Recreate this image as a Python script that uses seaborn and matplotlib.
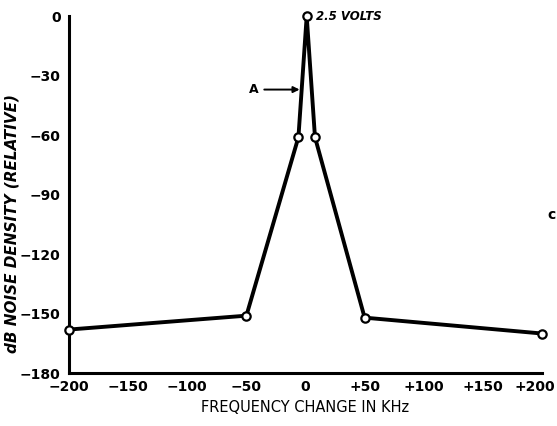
import matplotlib
matplotlib.use("Agg")
import matplotlib.pyplot as plt
import matplotlib.transforms as mtransforms
import seaborn as sns
import pandas as pd

# Noise density measured around the carrier
freq_khz = [-200, -50, -6, 1, 8, 50, 200]
noise_db = [-158, -151, -61, 0, -61, -152, -160]

x_ticks = [-200, -150, -100, -50, 0, 50, 100, 150, 200]
x_tick_labels = ["−200", "−150", "−100", "−50", "0", "+50", "+100", "+150", "+200"]
y_ticks = [0, -30, -60, -90, -120, -150, -180]
y_tick_labels = ["0", "−30", "−60", "−90", "−120", "−150", "−180"]

sns.set_theme(style="white")
plt.rcParams["font.family"] = ["DejaVu Sans"]
plt.rcParams["text.color"] = "black"
plt.rcParams["axes.labelcolor"] = "black"

df = pd.DataFrame({"freq": freq_khz, "noise": noise_db})

fig = plt.figure(figsize=(5.57, 4.26), dpi=100)
ax = fig.add_axes([0.124, 0.124, 0.849, 0.838])

sns.lineplot(data=df, x="freq", y="noise", ax=ax, color="black", linewidth=2.8,
             marker="o", markersize=6, markerfacecolor="white",
             markeredgecolor="black", markeredgewidth=1.6, sort=False,
             clip_on=False, zorder=5)

ax.set_xlim(-200, 200)
ax.set_ylim(-180, 0)

for side in ("top", "right"):
    ax.spines[side].set_visible(False)
for side in ("left", "bottom"):
    ax.spines[side].set_color("black")
    ax.spines[side].set_linewidth(2.2)

ax.tick_params(axis="y", direction="out", length=5, width=1.8, pad=1, colors="black")
ax.tick_params(axis="x", direction="inout", length=6, width=1.4, pad=2, colors="black")

ax.set_xticks(x_ticks)
ax.set_xticklabels(x_tick_labels, fontsize=10, fontweight="bold")
ax.set_yticks(y_ticks)
ax.set_yticklabels(y_tick_labels, fontsize=10, fontweight="bold")

# keep the last tick label inside the figure edge
last = ax.get_xticklabels()[-1]
last.set_transform(last.get_transform() +
                   mtransforms.ScaledTranslation(-5 / 72, 0, fig.dpi_scale_trans))

ax.set_xlabel("FREQUENCY CHANGE IN KHz", fontsize=10.5, labelpad=4, color="black")
ax.set_ylabel("dB NOISE DENSITY (RELATIVE)", fontsize=11, fontweight="bold",
              fontstyle="italic", color="black")
ax.yaxis.set_label_coords(-0.105, 0.42)

# Peak amplitude and marker arrow
ax.text(9, 0, "2.5 VOLTS", fontsize=8.5, fontweight="bold", fontstyle="italic",
        va="center", ha="left", color="black")
ax.annotate("A", xy=(-5, -37), xytext=(-40, -37), fontsize=9, fontweight="bold",
            va="center", ha="right", color="black",
            arrowprops=dict(arrowstyle="-|>", color="black", lw=1.4,
                            mutation_scale=9, shrinkA=2, shrinkB=0))

fig.text(0.982, 0.495, "c", fontsize=10, fontweight="bold", ha="left", va="center",
         color="black")

fig.savefig("out.png", dpi=100, facecolor="white")
